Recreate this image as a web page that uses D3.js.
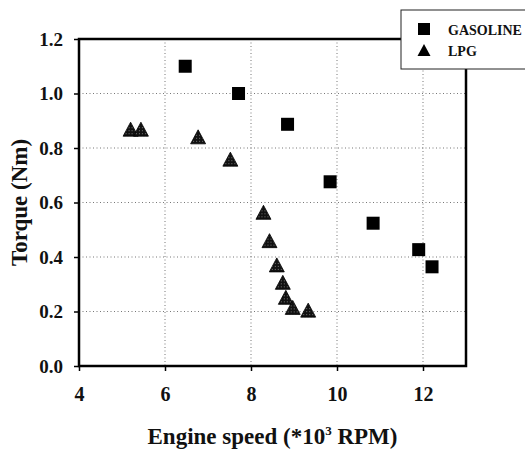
<!DOCTYPE html>
<html>
<head>
<meta charset="utf-8">
<script src="https://cdn.jsdelivr.net/npm/d3@7"></script>
<style>
  body { margin: 0; background: #fff; }
  text { font-family: "Liberation Serif", "Times New Roman", serif; font-weight: bold; fill: #111; }
</style>
</head>
<body>
<div id="chart"></div>
<script>
// values
var gasSpeed = [6.47, 7.71, 8.85, 9.84, 10.84, 11.9, 12.21];
var gasTorque = [1.10, 1.00, 0.887, 0.676, 0.524, 0.427, 0.364];
var lpgSpeed = [5.2, 5.44, 6.77, 7.52, 8.29, 8.43, 8.6, 8.74, 8.81, 8.97, 9.33];
var lpgTorque = [0.869, 0.869, 0.841, 0.759, 0.564, 0.46, 0.371, 0.307, 0.252, 0.215, 0.205];
var xTicks = [4, 6, 8, 10, 12];
var yTicks = [0, 0.2, 0.4, 0.6, 0.8, 1.0, 1.2];
var seriesNames = ["GASOLINE", "LPG"];

var W = 525, H = 455;
var margin = {top: 39, right: 59, bottom: 89, left: 79},
    width = W - margin.left - margin.right,
    height = H - margin.top - margin.bottom;

var svg = d3.select("#chart")
  .append("svg")
  .attr("width", W)
  .attr("height", H);

var defs = svg.append("defs");
var pat = defs.append("pattern")
  .attr("id", "dots")
  .attr("width", 3).attr("height", 3)
  .attr("patternUnits", "userSpaceOnUse");
pat.append("rect").attr("width", 3).attr("height", 3).attr("fill", "#111");
pat.append("rect").attr("x", 1).attr("y", 1).attr("width", 1).attr("height", 1).attr("fill", "#777");

var g = svg.append("g")
  .attr("transform", "translate(" + margin.left + "," + margin.top + ")");

var x = d3.scaleLinear().domain([4, 13]).range([0, width]);
var y = d3.scaleLinear().domain([0, 1.2]).range([height, 0]);

// dotted grid
g.append("g").selectAll("line")
  .data(xTicks.slice(1))
  .enter().append("line")
  .attr("x1", function(d){ return x(d); })
  .attr("x2", function(d){ return x(d); })
  .attr("y1", 0).attr("y2", height)
  .attr("stroke", "#777").attr("stroke-width", 1)
  .attr("stroke-dasharray", "1,2.5");
g.append("g").selectAll("line")
  .data(yTicks.slice(1, -1))
  .enter().append("line")
  .attr("y1", function(d){ return y(d); })
  .attr("y2", function(d){ return y(d); })
  .attr("x1", 0).attr("x2", width)
  .attr("stroke", "#777").attr("stroke-width", 1)
  .attr("stroke-dasharray", "1,2.5");

// axes
var xAxis = g.append("g")
  .attr("transform", "translate(0," + height + ")")
  .call(d3.axisBottom(x).tickValues(xTicks).tickSize(5).tickPadding(16)
    .tickFormat(d3.format("d")));
var yAxis = g.append("g")
  .call(d3.axisLeft(y).tickValues(yTicks).tickSize(5).tickPadding(11)
    .tickFormat(d3.format(".1f")));
[xAxis, yAxis].forEach(function(a){
  a.select(".domain").remove();
  a.selectAll("line").attr("stroke", "#000").attr("stroke-width", 1.5);
  a.selectAll("text").attr("fill", "#111");
});
xAxis.selectAll("text").style("font-size", "20px");
yAxis.selectAll("text").style("font-size", "19px").attr("dy", "0.34em");

// frame
g.append("rect")
  .attr("width", width).attr("height", height)
  .attr("fill", "none").attr("stroke", "#000").attr("stroke-width", 2.5);

// gasoline squares
var sq = 13;
g.selectAll(".gas")
  .data(gasSpeed)
  .enter().append("rect")
  .attr("class", "gas")
  .attr("x", function(d){ return x(d) - sq / 2; })
  .attr("y", function(d, i){ return y(gasTorque[i]) - sq / 2; })
  .attr("width", sq).attr("height", sq)
  .attr("fill", "#000");

// lpg triangles
var tri = "M0,-7L7.5,7L-7.5,7Z";
g.selectAll(".lpg")
  .data(lpgSpeed)
  .enter().append("path")
  .attr("class", "lpg")
  .attr("d", tri)
  .attr("transform", function(d, i){ return "translate(" + x(d) + "," + y(lpgTorque[i]) + ")"; })
  .attr("fill", "url(#dots)")
  .attr("stroke", "#000").attr("stroke-width", 0.8);

// axis titles
svg.append("text")
  .attr("x", margin.left + width / 2)
  .attr("y", 444)
  .attr("text-anchor", "middle")
  .style("font-size", "23px")
  .html('Engine speed (*10<tspan dy="-9" style="font-size:13px">3</tspan><tspan dy="9"> RPM)</tspan>');

svg.append("text")
  .attr("transform", "translate(27," + (margin.top + y(0.6)) + ") rotate(-90)")
  .attr("text-anchor", "middle")
  .style("font-size", "23px")
  .text("Torque (Nm)");

// legend
var leg = svg.append("g");
leg.append("rect")
  .attr("x", 401).attr("y", 10)
  .attr("width", 130).attr("height", 59)
  .attr("fill", "#fff").attr("stroke", "#222").attr("stroke-width", 1);
var items = leg.selectAll(".item")
  .data(seriesNames)
  .enter().append("g")
  .attr("transform", function(d, i){ return "translate(424," + (29 + i * 21) + ")"; });
items.each(function(d, i){
  var it = d3.select(this);
  if (i === 0) {
    it.append("rect").attr("x", -6).attr("y", -6).attr("width", 12).attr("height", 12).attr("fill", "#000");
  } else {
    it.append("path").attr("d", "M0,-6L6.5,6L-6.5,6Z").attr("fill", "#000");
  }
  it.append("text").attr("x", 24).attr("y", 6)
    .style("font-size", "14px").text(d);
});
</script>
</body>
</html>
